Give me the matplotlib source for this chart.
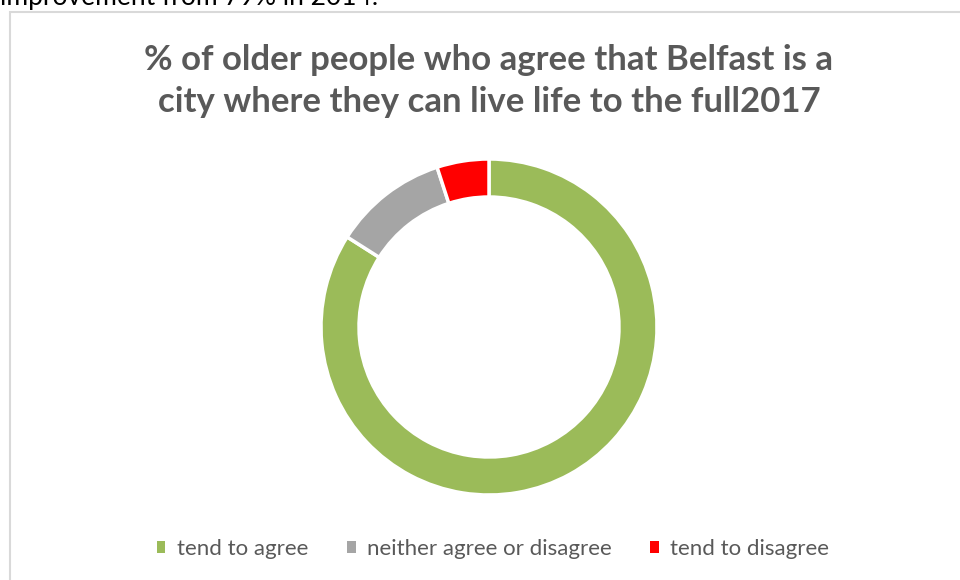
import matplotlib
matplotlib.use("Agg")
import matplotlib.pyplot as plt
from matplotlib.patches import Rectangle

# Survey shares (%)
categories = ["tend to agree", "neither agree or disagree", "tend to disagree"]
shares = [84, 11, 5]
colors = ["#9BBB59", "#A5A5A5", "#FF0000"]

title = "% of older people who agree that Belfast is a\ncity where they can live life to the full2017"
intro_tail = "improvement from 79% in 2014."

W, H = 960, 580
fig = plt.figure(figsize=(W / 100, H / 100), dpi=100)
fig.patch.set_facecolor("white")

# Paragraph text above the chart box (clipped at the top edge)
fig.text(0 / W, 1 - 5 / H, intro_tail, family="Lato", fontsize=19,
         color="#000000", ha="left", va="baseline")

# Chart box border
fig.add_artist(Rectangle((9.5 / W, -0.05), 1.1, 1 - 12 / H + 0.05,
                         transform=fig.transFigure, fill=False,
                         edgecolor="#D9D9D9", linewidth=1.5))

# Title
fig.text(489 / W, 1 - 81 / H, title, family="Lato", fontweight="bold",
         fontsize=25, color="#595959", ha="center", va="center",
         linespacing=1.42)

# Doughnut
cx, cy, r_out, r_in = 489, 327, 168, 130
ax = fig.add_axes([(cx - r_out) / W, (H - cy - r_out) / H,
                   2 * r_out / W, 2 * r_out / H])
wedges, _ = ax.pie(shares, colors=colors, startangle=90, counterclock=False,
                   radius=1.0,
                   wedgeprops=dict(width=(r_out - r_in) / r_out,
                                   edgecolor="white", linewidth=2.5))
ax.set_xlim(-1, 1)
ax.set_ylim(-1, 1)
ax.set_aspect("equal")
ax.axis("off")

# Legend
leg = fig.legend(wedges, categories, loc="center", ncol=3,
                 bbox_to_anchor=(493 / W, 1 - 549 / H), frameon=False,
                 prop=dict(family="Lato", size=16), labelcolor="#595959",
                 handlelength=0.4, handleheight=0.4, handletextpad=0.5,
                 columnspacing=1.75)
for h in leg.legend_handles:
    h.set_edgecolor("none")

fig.savefig("out.png", dpi=100, facecolor="white")
